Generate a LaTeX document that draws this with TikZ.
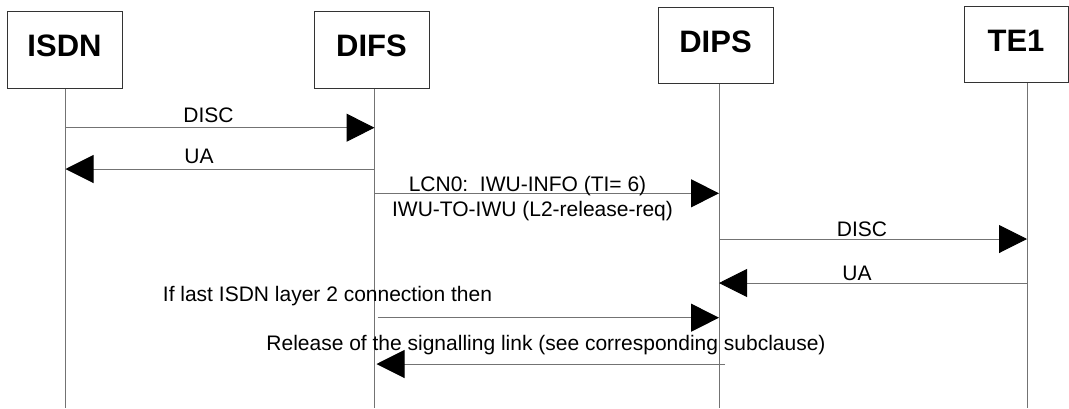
\documentclass[tikz,border=0pt]{standalone}
\usepackage{fontspec}
\setmainfont{Liberation Sans}
\usepackage{tikz}
\usetikzlibrary{arrows.meta}

\begin{document}
\begin{tikzpicture}[x=1pt,y=-1pt,
        entity/.style={draw=black!80,line width=1pt,minimum width=115pt,minimum height=77pt,
          inner sep=0pt,text height=22pt,text depth=8pt,font=\fontsize{31}{37}\selectfont\bfseries},
        lifeline/.style={draw=black!55,line width=1pt},
        msg/.style={draw=black!55,line width=1pt,-{Triangle[length=28pt,width=28pt,color=black]}},
        msgtext/.style={anchor=base,inner sep=0pt,font=\fontsize{21}{25}\selectfont}]
        \useasboundingbox (0,0) rectangle (1069,408);
        %
        \node [entity] (isdn) at (64.5,49.5) {ISDN};
        \node [entity] (difs) at (371.5,49.5) {DIFS};
        \node [entity,minimum height=76pt] (dips) at (715.5,45) {DIPS};
        \node [entity,minimum height=76pt,minimum width=104pt] (te1) at (1016,44.5) {TE1};
        %
        \coordinate (isdnL) at (65.5,408);
        \coordinate (difsL) at (374.5,408);
        \coordinate (dipsL) at (719,408);
        \coordinate (te1L) at (1027,408);
        \draw [lifeline] (isdn.south -| isdnL) -- (isdnL);
        \draw [lifeline] (difs.south -| difsL) -- (difsL);
        \draw [lifeline] (dips.south -| dipsL) -- (dipsL);
        \draw [lifeline] (te1.south -| te1L) -- (te1L);
        %
        \coordinate (r1) at (0,127.7);
        \coordinate (r2) at (0,169);
        \coordinate (r3) at (0,193.3);
        \coordinate (r4) at (0,239);
        \coordinate (r5) at (0,283);
        \coordinate (r6) at (0,317.7);
        \coordinate (r7) at (0,364);
        %
        \draw [msg] (isdnL |- r1) -- (difsL |- r1);
        \draw [msg] (difsL |- r2) -- (isdnL |- r2);
        \draw [msg] (difsL |- r3) -- (dipsL |- r3);
        \draw [msg] (dipsL |- r4) -- (te1L |- r4);
        \draw [msg] (te1L |- r5) -- (dipsL |- r5);
        \draw [msg,shorten <=3pt] (difsL |- r6) -- (dipsL |- r6);
        \draw [msg,shorten <=-6pt,shorten >=2pt] (dipsL |- r7) -- (difsL |- r7);
        %
        \node [msgtext] (disc1) at (208.5,122.7) {DISC};
        \node [msgtext] (ua1) at (199,163.3) {UA};
        \node [msgtext] (lcn) at (527.5,191.7) {LCN0:\ \ IWU-INFO (TI= 6)};
        \node [msgtext] (iwu) at (532.5,216) {IWU-TO-IWU (L2-release-req)};
        \node [msgtext] (disc2) at (862,236.7) {DISC};
        \node [msgtext] (ua2) at (857,280) {UA};
        \node [msgtext] (last) at (327.5,301.7) {If last ISDN layer 2 connection then};
        \node [msgtext] (rel) at (546,350) {Release of the signalling link (see corresponding subclause)};
      \end{tikzpicture}
\end{document}
